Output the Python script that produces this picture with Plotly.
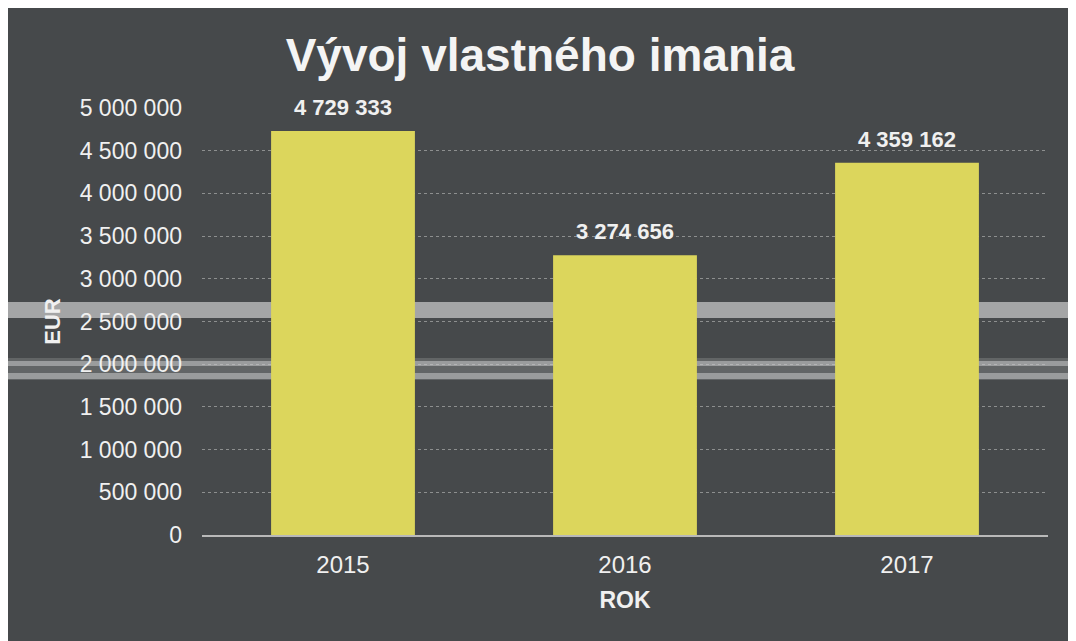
import plotly.graph_objects as go

years = ["2015", "2016", "2017"]
values = [4729333, 3274656, 4359162]
tick_vals = [0, 500000, 1000000, 1500000, 2000000, 2500000, 3000000, 3500000, 4000000, 4500000, 5000000]

BG = "#46494b"
BAR = "#dcd65c"
TXT = "#f0f0f0"
FONT = "Liberation Sans, Arial"

# the page adds an 8px body margin (matches the white scan border of the reference)
W, H = 1068, 633
PL, PR, PT, PB = 202, 1048, 108, 535   # plot area in page pixels
OFF = 8
L, T = PL - OFF, PT - OFF
R, B = W - (PR - OFF), H - (PB - OFF)
pw, ph = PR - PL, PB - PT

def px_x(p):
    return (p - PL) / pw

def px_y(p):
    return (PB - p) / ph

fig = go.Figure()
fig.add_trace(go.Bar(
    x=years, y=values, marker=dict(color=BAR, line=dict(width=0)),
    hoverinfo="skip",
))

# category index positions (numeric-looking category names would be read as indices)
for i, v in enumerate(values):
    fig.add_annotation(
        x=i, y=v, text="<b>" + f"{v:,}".replace(",", " ") + "</b>", showarrow=False,
        yanchor="bottom", yshift=9,
        font=dict(family=FONT, size=22, color=TXT),
    )

band = dict(type="rect", xref="paper", yref="paper", x0=px_x(0), x1=px_x(1080),
            line=dict(width=0), layer="below")
shapes = [
    dict(band, y0=px_y(318), y1=px_y(302), fillcolor="rgba(215,215,215,0.65)"),
    dict(band, y0=px_y(380), y1=px_y(358), fillcolor="rgba(200,200,200,0.22)"),
    dict(band, y0=px_y(366), y1=px_y(361), fillcolor="rgba(225,225,225,0.45)"),
    dict(band, y0=px_y(379), y1=px_y(373), fillcolor="rgba(225,225,225,0.45)"),
]

fig.update_layout(
    width=W, height=H,
    margin=dict(l=L, r=R, t=T, b=B, autoexpand=False),
    paper_bgcolor=BG, plot_bgcolor="rgba(0,0,0,0)",
    separators=", ",
    showlegend=False,
    bargap=0.49,
    shapes=shapes,
    title=dict(
        text="<b>Vývoj vlastného imania</b>", x=(540 - OFF) / W, xanchor="center", xref="container",
        y=1 - (55 - OFF) / H, yanchor="middle", yref="container",
        font=dict(family=FONT, size=46, color="#f4f4f4"),
    ),
    font=dict(family=FONT, color=TXT),
    xaxis=dict(
        type="category", range=[-0.5, 2.5],
        showgrid=False, showline=True, linecolor="#b9b9b9", linewidth=2,
        ticks="", tickfont=dict(size=24, color=TXT), ticklabelstandoff=7,
        title=dict(text="<b>ROK</b>", font=dict(size=23, color=TXT), standoff=15),
    ),
    yaxis=dict(
        range=[0, 5000000], tickvals=tick_vals, tickformat=",d",
        showgrid=True, gridcolor="rgba(200,200,200,0.55)", griddash="dot", gridwidth=1,
        zeroline=False, showline=False, ticks="",
        tickfont=dict(size=23, color=TXT), ticklabelstandoff=19,
        title=dict(text="<b>EUR</b>", font=dict(size=22, color=TXT), standoff=12),
    ),
)

fig.write_html("out.html")
